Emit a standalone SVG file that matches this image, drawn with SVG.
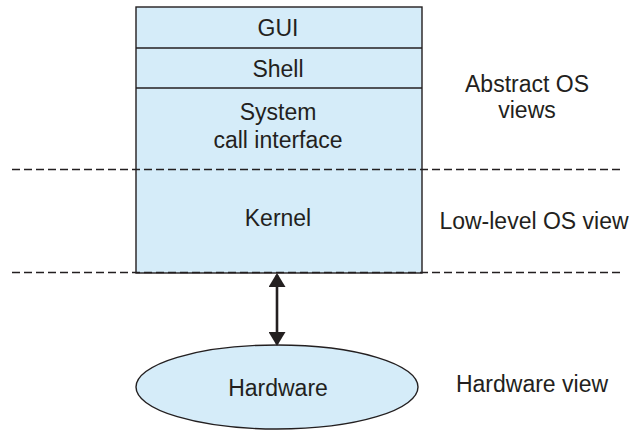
<svg xmlns="http://www.w3.org/2000/svg" width="634" height="430" viewBox="0 0 634 430">
  <style>
    .layer { fill: #d5ecf9; stroke: #231f20; stroke-width: 1.4; }
    .sep { fill: none; stroke: #231f20; stroke-width: 1.4; }
    .dash { fill: none; stroke: #231f20; stroke-width: 1.4; stroke-dasharray: 8 4; }
    .lbl { font-family: "Liberation Sans", Arial, sans-serif; font-size: 23px; fill: #231f20; text-anchor: middle; }
    .link { stroke: #231f20; stroke-width: 2.6; fill: none; }
  </style>
  <defs>
    <marker id="head" markerWidth="14" markerHeight="17" refX="12" refY="8.5" orient="auto-start-reverse" markerUnits="userSpaceOnUse" viewBox="0 0 14 17">
      <path d="M0,0 L14,8.5 L0,17 Z" fill="#231f20"/>
    </marker>
  </defs>

  <!-- layered OS stack -->
  <g id="stack">
    <rect class="layer" x="136" y="7" width="286" height="266"/>
    <line class="sep" x1="136" y1="48" x2="422" y2="48"/>
    <line class="sep" x1="136" y1="88" x2="422" y2="88"/>
  </g>
  <g id="gui">
    <text class="lbl" x="278" y="36">GUI</text>
  </g>
  <g id="shell">
    <text class="lbl" x="278" y="77">Shell</text>
  </g>
  <g id="syscall">
    <text class="lbl" x="278" y="120">System</text>
    <text class="lbl" x="278" y="147.5">call interface</text>
  </g>
  <g id="kernel">
    <text class="lbl" x="278" y="226">Kernel</text>
  </g>

  <!-- view boundaries -->
  <g id="boundaries">
    <line class="dash" x1="12" y1="169.5" x2="622" y2="169.5"/>
    <line class="dash" x1="12" y1="272.5" x2="622" y2="272.5"/>
  </g>

  <!-- hardware -->
  <g id="hardware">
    <ellipse class="layer" cx="277" cy="387" rx="141" ry="42"/>
    <text class="lbl" x="278" y="395.5">Hardware</text>
  </g>

  <!-- side labels -->
  <g id="abstract-views">
    <text class="lbl" x="527" y="91.5">Abstract OS</text>
    <text class="lbl" x="527" y="118">views</text>
  </g>
  <g id="lowlevel-view">
    <text class="lbl" x="534" y="229">Low-level OS view</text>
  </g>
  <g id="hardware-view">
    <text class="lbl" x="532" y="391.5">Hardware view</text>
  </g>

  <g id="connectors">
    <line class="link" x1="277" y1="275" x2="277" y2="344" marker-start="url(#head)" marker-end="url(#head)"/>
  </g>
</svg>
